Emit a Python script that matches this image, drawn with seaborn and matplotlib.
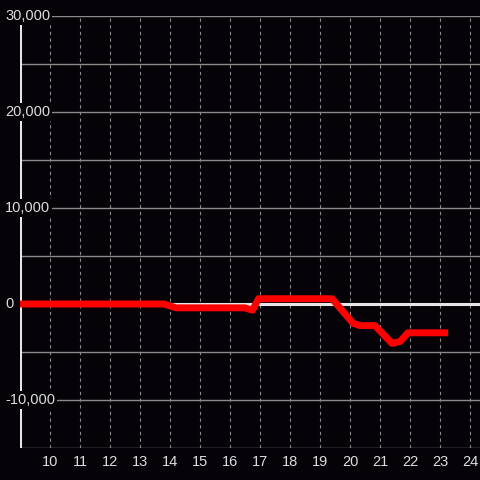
import matplotlib
matplotlib.use("Agg")
import matplotlib.pyplot as plt
import matplotlib.transforms as mtransforms
import seaborn as sns
import pandas as pd

# hour of day vs cumulative value
hours = [9.0, 13.8, 14.2, 16.5, 16.75, 16.95, 19.4, 20.1, 20.33, 20.83, 21.4, 21.67, 21.93, 23.27]
values = [0, 0, -400, -400, -650, 550, 550, -2000, -2250, -2250, -4100, -3900, -3000, -3000]

x_ticks = list(range(10, 25))
y_label_ticks = [-10000, 0, 10000, 20000, 30000]
y_grid_ticks = list(range(-15000, 30001, 5000))

bg = "#050307"
fg = "#dddddd"

sns.set_style("dark", {"axes.facecolor": bg, "figure.facecolor": bg})
plt.rcParams['font.family'] = ['Liberation Sans', 'DejaVu Sans']

df = pd.DataFrame({"hour": hours, "value": values})

fig = plt.figure(figsize=(4.8, 4.8), dpi=100)
ax = fig.add_axes([20 / 480, 32 / 480, 460 / 480, 432 / 480])
ax.set_facecolor(bg)

# grid lines
for y in y_grid_ticks:
    ax.axhline(y, color="#8a8a88", lw=1.0, zorder=1)
for x in x_ticks:
    ax.axvline(x, color="#8a8a8a", lw=0.8, ls=(0, (3, 3)), zorder=1)

# zero line and y axis line
ax.axhline(0, color="#e6e6e6", lw=2.2, zorder=2)
ax.axvline(9, color="#e6e6e6", lw=2.2, zorder=2)

sns.lineplot(data=df, x="hour", y="value", ax=ax, color="#ff0000", lw=5,
             solid_joinstyle="round", solid_capstyle="butt", zorder=3)

ax.set_xlim(9, 9 + 460 / 30)
ax.set_ylim(-15000, 30000)
ax.set_xticks(x_ticks)
ax.set_xticklabels([str(t) for t in x_ticks])
ax.set_yticks([])
ax.tick_params(axis="x", length=0, pad=5, colors=fg, labelsize=10.5)
ax.set_xlabel("")
ax.set_ylabel("")
for s in ax.spines.values():
    s.set_visible(False)
ax.grid(False)

# y labels sit over the plot with a dark box behind them
trans = mtransforms.blended_transform_factory(fig.transFigure, ax.transData)
for v in y_label_ticks:
    ax.text(5 / 480, v, f"{v:,}", transform=trans, ha="left", va="center",
            color=fg, fontsize=10.5, zorder=5,
            bbox=dict(boxstyle="square,pad=0.15", fc=bg, ec="none"))

fig.savefig("out.png", dpi=100, facecolor=bg)
